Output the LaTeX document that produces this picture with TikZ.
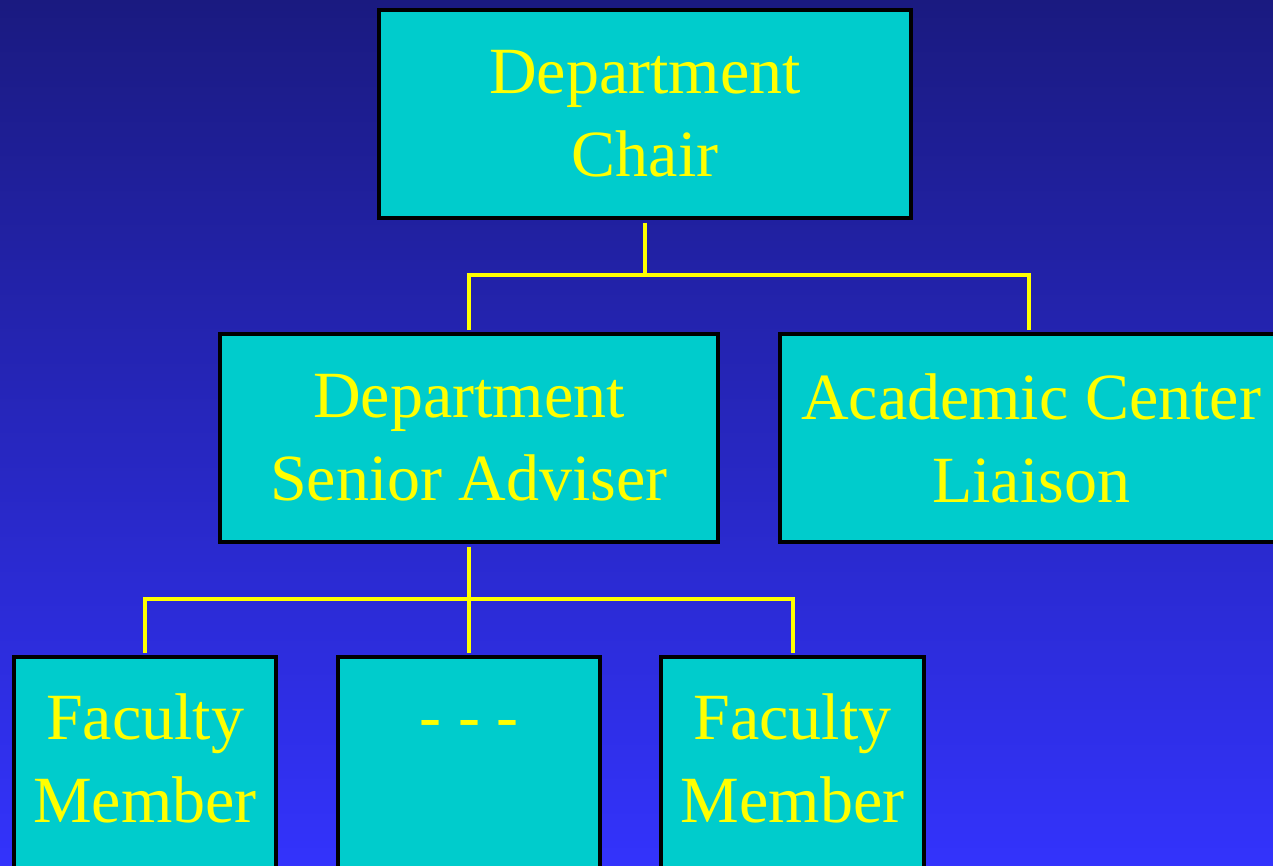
\documentclass[tikz,border=0pt]{standalone}
\usepackage{fontspec}
\setmainfont{Liberation Serif}
\definecolor{bgtop}{RGB}{26,26,128}
\definecolor{bgbot}{RGB}{51,51,252}
\definecolor{boxfill}{RGB}{0,204,204}
\definecolor{txt}{RGB}{255,255,0}
\begin{document}
\begin{tikzpicture}[x=1pt,y=-1pt,
  orgbox/.style={draw=black, line width=4.5pt, fill=boxfill, text=txt, align=center,
    font=\fontsize{66}{83}\selectfont, inner sep=0pt, minimum height=208pt},
  lowbox/.style={orgbox, minimum height=212pt, text depth=10pt},
  link/.style={draw=txt, line width=4pt, shorten <=2.25pt, shorten >=2.25pt}]
\useasboundingbox (0,0) rectangle (1273,865);
\clip (0,0) rectangle (1273,865);
\shade[top color=bgtop, bottom color=bgbot] (0,0) rectangle (1273,865);

\node[orgbox, minimum width=532pt] (chair) at (645,114) {Department\\Chair};
\node[orgbox, minimum width=498pt] (adviser) at (469,438) {Department\\Senior Adviser};
\node[orgbox, minimum width=502pt] (liaison) at (1031,438) {Academic Center\\Liaison};
\node[lowbox, minimum width=262pt] (fac1) at (145,763) {Faculty\\Member};
\node[lowbox, minimum width=262pt] (mid) at (469,763) {\vphantom{F}- - -\\\mbox{}};
\node[lowbox, minimum width=263pt] (fac2) at (792.5,763) {Faculty\\Member};

\coordinate (j1) at (645,275);
\coordinate (j2) at (469,599);

\draw[link, shorten >=0pt] (chair.south) -- (j1);
\draw[link] (adviser.north) |- (j1) -| ([xshift=-2pt]liaison.north);
\draw[link] (adviser.south) -- (mid.north);
\draw[link] (fac1.north) |- (j2) -| (fac2.north);
\end{tikzpicture}
\end{document}
